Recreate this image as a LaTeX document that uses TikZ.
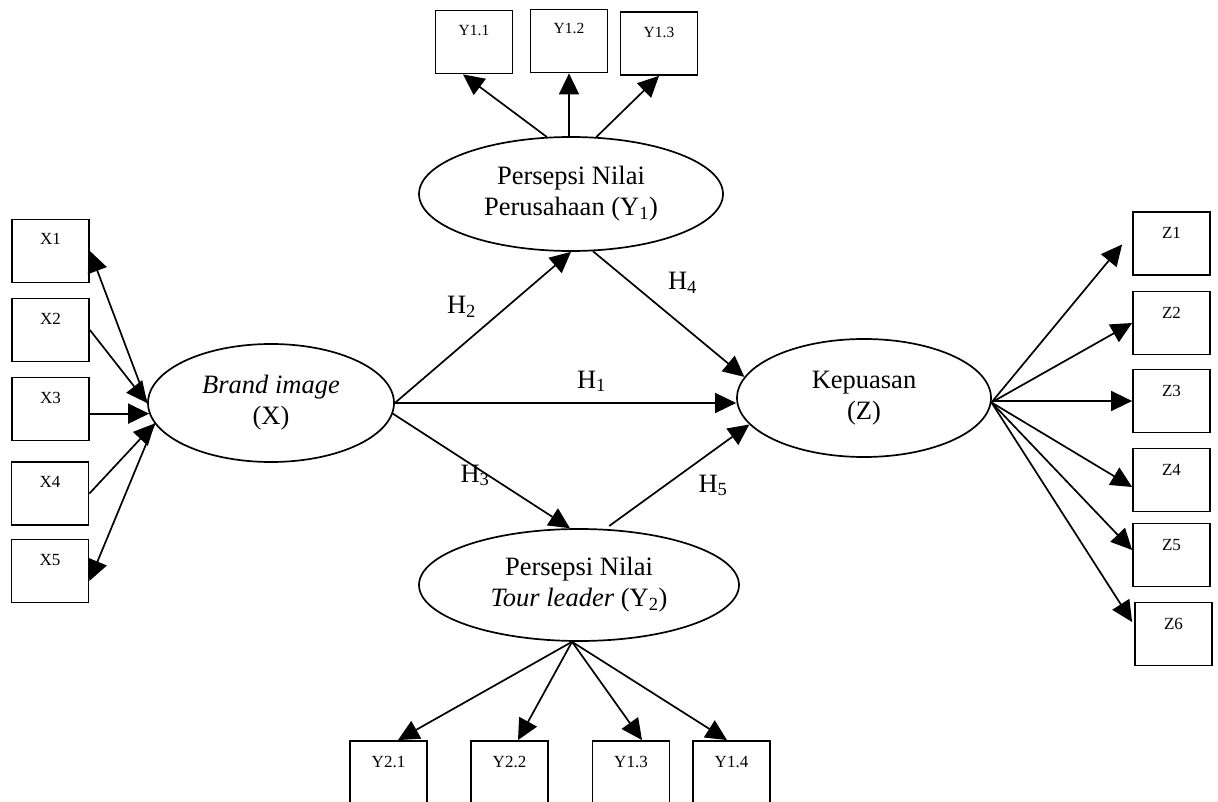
\documentclass[tikz,border=0pt]{standalone}
\usepackage{fontspec}
\setmainfont{Liberation Serif}
\usetikzlibrary{arrows.meta,shapes.geometric,calc}
\begin{document}
\begin{tikzpicture}[x=1pt,y=-1pt,
  ind/.style={draw,line width=1.8pt,minimum width=77pt,minimum height=63pt,inner sep=0pt},
  blab/.style={font=\fontsize{17}{19}\selectfont,inner sep=0pt},
  tlab/.style={font=\fontsize{15.5}{18}\selectfont,inner sep=0pt},
  lat/.style={draw,ellipse,line width=1.7pt,inner sep=0pt,align=center,font=\fontsize{26.5}{31}\selectfont},
  arr/.style={line width=1.7pt,-{Triangle[length=21pt,width=20pt]}},
  hlab/.style={anchor=base,font=\fontsize{26.5}{31}\selectfont,inner sep=0pt}
]
\useasboundingbox (0,0) rectangle (1218,802);

% indicator boxes X
\node[ind,label={[blab,anchor=center,yshift=-20pt]north:X1}] (X1) at (50.5,251) {};
\node[ind,label={[blab,anchor=center,yshift=-21pt]north:X2}] (X2) at (50.5,330) {};
\node[ind,label={[blab,anchor=center,yshift=-21pt]north:X3}] (X3) at (50.5,409) {};
\node[ind,label={[blab,anchor=center,yshift=-21pt]north:X4}] (X4) at (50,493.5) {};
\node[ind,label={[blab,anchor=center,yshift=-21pt]north:X5}] (X5) at (50,571) {};

% indicator boxes Y1
\node[ind,label={[tlab,anchor=center,yshift=-21pt]north:Y1.1}] (Y11) at (474,42) {};
\node[ind,label={[tlab,anchor=center,yshift=-20pt]north:Y1.2}] (Y12) at (569,41) {};
\node[ind,label={[tlab,anchor=center,yshift=-21pt]north:Y1.3}] (Y13) at (659,43.5) {};

% indicator boxes Y2
\node[ind,label={[blab,anchor=center,yshift=-22pt]north:Y2.1}] (Y21) at (388.5,772.5) {};
\node[ind,label={[blab,anchor=center,yshift=-22pt]north:Y2.2}] (Y22) at (509.5,772.5) {};
\node[ind,label={[blab,anchor=center,yshift=-22pt]north:Y1.3}] (Y23) at (631,772.5) {};
\node[ind,label={[blab,anchor=center,yshift=-22pt]north:Y1.4}] (Y24) at (731.5,772.5) {};

% indicator boxes Z
\node[ind,label={[blab,anchor=center,yshift=-22pt]north:Z1}] (Z1) at (1171.5,243.5) {};
\node[ind,label={[blab,anchor=center,yshift=-22pt]north:Z2}] (Z2) at (1171.5,323) {};
\node[ind,label={[blab,anchor=center,yshift=-22pt]north:Z3}] (Z3) at (1171.5,401) {};
\node[ind,label={[blab,anchor=center,yshift=-22pt]north:Z4}] (Z4) at (1171.5,480) {};
\node[ind,label={[blab,anchor=center,yshift=-22pt]north:Z5}] (Z5) at (1171.5,555) {};
\node[ind,label={[blab,anchor=center,yshift=-22pt]north:Z6}] (Z6) at (1173.5,634) {};

% latent variables
\node[lat,minimum width=246pt,minimum height=118pt] (X) at (271,403) {\textit{Brand image}\\(X)};
\node[lat,minimum width=304pt,minimum height=114pt] (Y1) at (571,194) {Persepsi Nilai\\Perusahaan (Y\textsubscript{1})};
\node[lat,minimum width=254pt,minimum height=118pt] (Z) at (864,398) {Kepuasan\\(Z)};
\node[lat,minimum width=320pt,minimum height=112pt] (Y2) at (579,585) {Persepsi Nilai\\\textit{Tour leader} (Y\textsubscript{2})};

% X indicators
\draw[arr] (X.180) -- (X1.east);
\draw[arr] (X2.east) -- (X.180);
\draw[arr] (X3.east |- X.185) -- (X.185);
\draw[arr] (X4.east) -- (X.190);
\draw[arr] (X.190) -- ($(X5.east)+(0,10)$);

% Y1 indicators
\draw[arr] (Y1.113) -- ($(Y11.south)+(-11,0)$);
\draw[arr] (Y12.south |- Y1.north) -- (Y12.south);
\draw[arr] (Y1.66) -- (Y13.south);

% structural paths
\draw[arr] (X.east) -- (Y1.south);
\draw[arr] (Y1.-69) -- (Z.170);
\draw[arr] (X.east) -- (X.east -| Z.west);
\draw[arr] (X.355) -- (Y2.99);
\draw[arr,shorten <=5pt] (Y2.65) -- (Z.193);

\node[hlab] (h2) at (461.5,314) {H\textsubscript{2}};
\node[hlab] (h4) at (682.5,290) {H\textsubscript{4}};
\node[hlab] (h1) at (591.5,388) {H\textsubscript{1}};
\node[hlab] (h3) at (475,482) {H\textsubscript{3}};
\node[hlab] (h5) at (713,492) {H\textsubscript{5}};

% Y2 indicators
\draw[arr] (Y2.263) -- ($(Y21.north)+(9.5,0)$);
\draw[arr] (Y2.263) -- ($(Y22.north)+(8.5,0)$);
\draw[arr] (Y2.263) -- ($(Y23.north)+(11,0)$);
\draw[arr] (Y2.263) -- ($(Y24.north)+(-4.5,0)$);

% Z indicators
\draw[arr] (Z.358) -- ($(Z1.west)+(-10,1)$);
\draw[arr] (Z.358) -- (Z2.west);
\draw[arr] (Z.east |- Z3.west) -- (Z3.west);
\draw[arr] (Z.358) -- ($(Z4.west)+(0,7)$);
\draw[arr] (Z.358) -- ($(Z5.west)+(0,-5)$);
\draw[arr] (Z.358) -- ($(Z6.west)+(-2,-12)$);
\end{tikzpicture}
\end{document}
